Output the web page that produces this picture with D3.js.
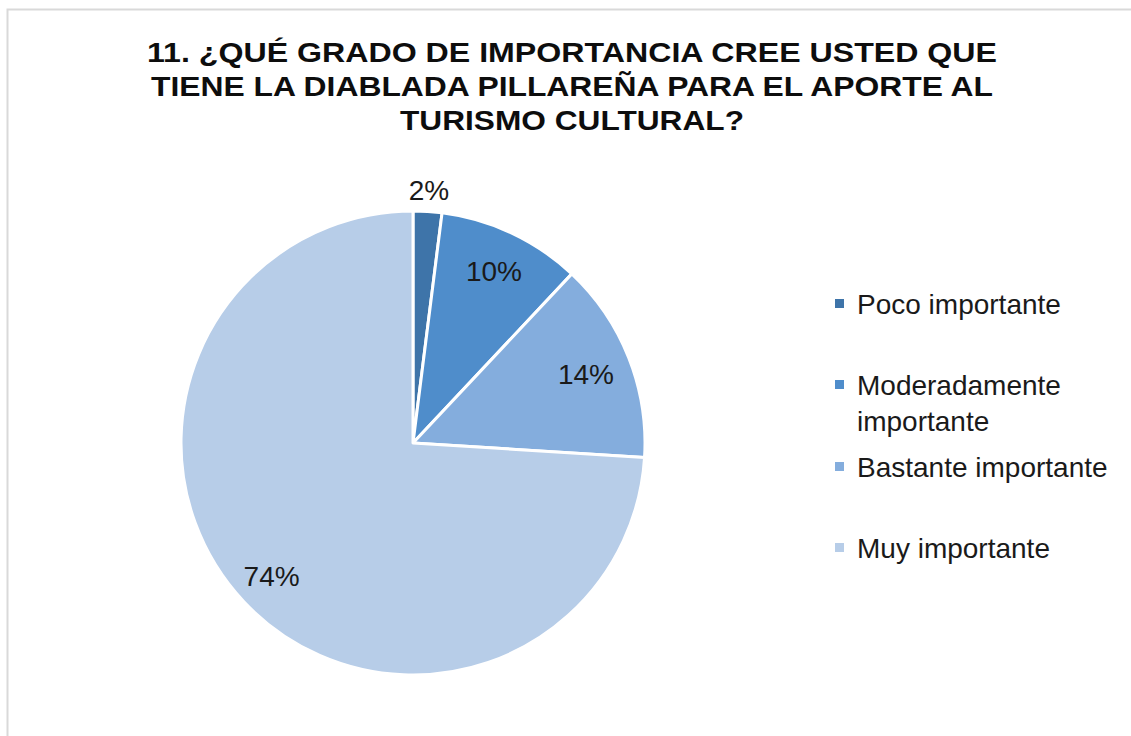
<!DOCTYPE html>
<html>
<head>
<meta charset="utf-8">
<script src="https://cdn.jsdelivr.net/npm/d3@7"></script>
<style>
  body { margin: 0; background: #fff; }
  svg { display: block; }
</style>
</head>
<body>
<div id="pie"></div>
<script>
// categories and shares (%)
var categories = ["Poco importante", "Moderadamente importante", "Bastante importante", "Muy importante"];
var values = [2, 10, 14, 74];
var legendLines = [["Poco importante"], ["Moderadamente", "importante"], ["Bastante importante"], ["Muy importante"]];
var titleLines = [
    "11. ¿QUÉ GRADO DE IMPORTANCIA CREE USTED QUE",
    "TIENE LA DIABLADA PILLAREÑA PARA EL APORTE AL",
    "TURISMO CULTURAL?"
];

var width = 1131,
    height = 736,
    radius = 232,
    cx = 413,
    cy = 443;

var color = d3.scaleOrdinal()
    .domain(categories)
    .range(["#3e74a9", "#4f8dcb", "#84addd", "#b7cde8"]);

var svg = d3.select("#pie")
    .append("svg")
    .attr("width", width)
    .attr("height", height);

// chart area border
svg.append("rect")
    .attr("x", 7.5)
    .attr("y", 9.5)
    .attr("width", width + 10)
    .attr("height", height + 10)
    .attr("fill", "none")
    .attr("stroke", "#d9d9d9")
    .attr("stroke-width", 2);

// title
var titleWidths = [850, 842, 344];
svg.append("g")
    .selectAll("text")
    .data(titleLines)
    .enter().append("text")
    .attr("x", 572)
    .attr("y", function (d, i) { return 62 + i * 34; })
    .attr("text-anchor", "middle")
    .attr("textLength", function (d, i) { return titleWidths[i]; })
    .attr("lengthAdjust", "spacingAndGlyphs")
    .style("font-family", "'Liberation Sans', Arial, sans-serif")
    .style("font-weight", "bold")
    .style("font-size", "28px")
    .style("fill", "#0d0d0d")
    .text(function (d) { return d; });

var data = categories.map(function (c, i) { return { title: c, value: values[i] }; });

var pie = d3.pie()
    .sort(null)
    .value(function (d) { return d.value; })(data);

var arc = d3.arc()
    .outerRadius(radius)
    .innerRadius(0);

var g = svg.append("g")
    .attr("transform", "translate(" + cx + "," + cy + ")");

g.selectAll("path")
    .data(pie)
    .enter().append("path")
    .attr("d", arc)
    .style("fill", function (d) { return color(d.data.title); })
    .style("stroke", "#fff")
    .style("stroke-width", 3)
    .style("stroke-linejoin", "round");

// data labels, placed along each slice's mid angle
var labelRadius = [253, 190, 186, 194];
g.selectAll("text.lbl")
    .data(pie)
    .enter().append("text")
    .attr("class", "lbl")
    .attr("transform", function (d, i) {
        var a = (d.startAngle + d.endAngle) / 2;
        var r = labelRadius[i];
        return "translate(" + (Math.sin(a) * r) + "," + (-Math.cos(a) * r) + ")";
    })
    .attr("text-anchor", "middle")
    .attr("dy", "0.35em")
    .style("font-family", "'Liberation Sans', Arial, sans-serif")
    .style("font-size", "28px")
    .style("fill", "#1a1a1a")
    .text(function (d) { return d.data.value + "%"; });

// legend
var legendY = [304, 385, 467, 548];
var legend = svg.append("g")
    .selectAll("g")
    .data(data)
    .enter().append("g")
    .attr("transform", function (d, i) { return "translate(835," + legendY[i] + ")"; });

legend.append("rect")
    .attr("x", 0)
    .attr("y", -5)
    .attr("width", 9)
    .attr("height", 9)
    .style("fill", function (d) { return color(d.title); });

legend.append("text")
    .attr("x", 22)
    .attr("y", 0)
    .style("font-family", "'Liberation Sans', Arial, sans-serif")
    .style("font-size", "28px")
    .style("fill", "#1a1a1a")
    .selectAll("tspan")
    .data(function (d, i) { return legendLines[i]; })
    .enter().append("tspan")
    .attr("x", 22)
    .attr("dy", function (d, i) { return i === 0 ? "0.35em" : "1.29em"; })
    .text(function (d) { return d; });
</script>
</body>
</html>
